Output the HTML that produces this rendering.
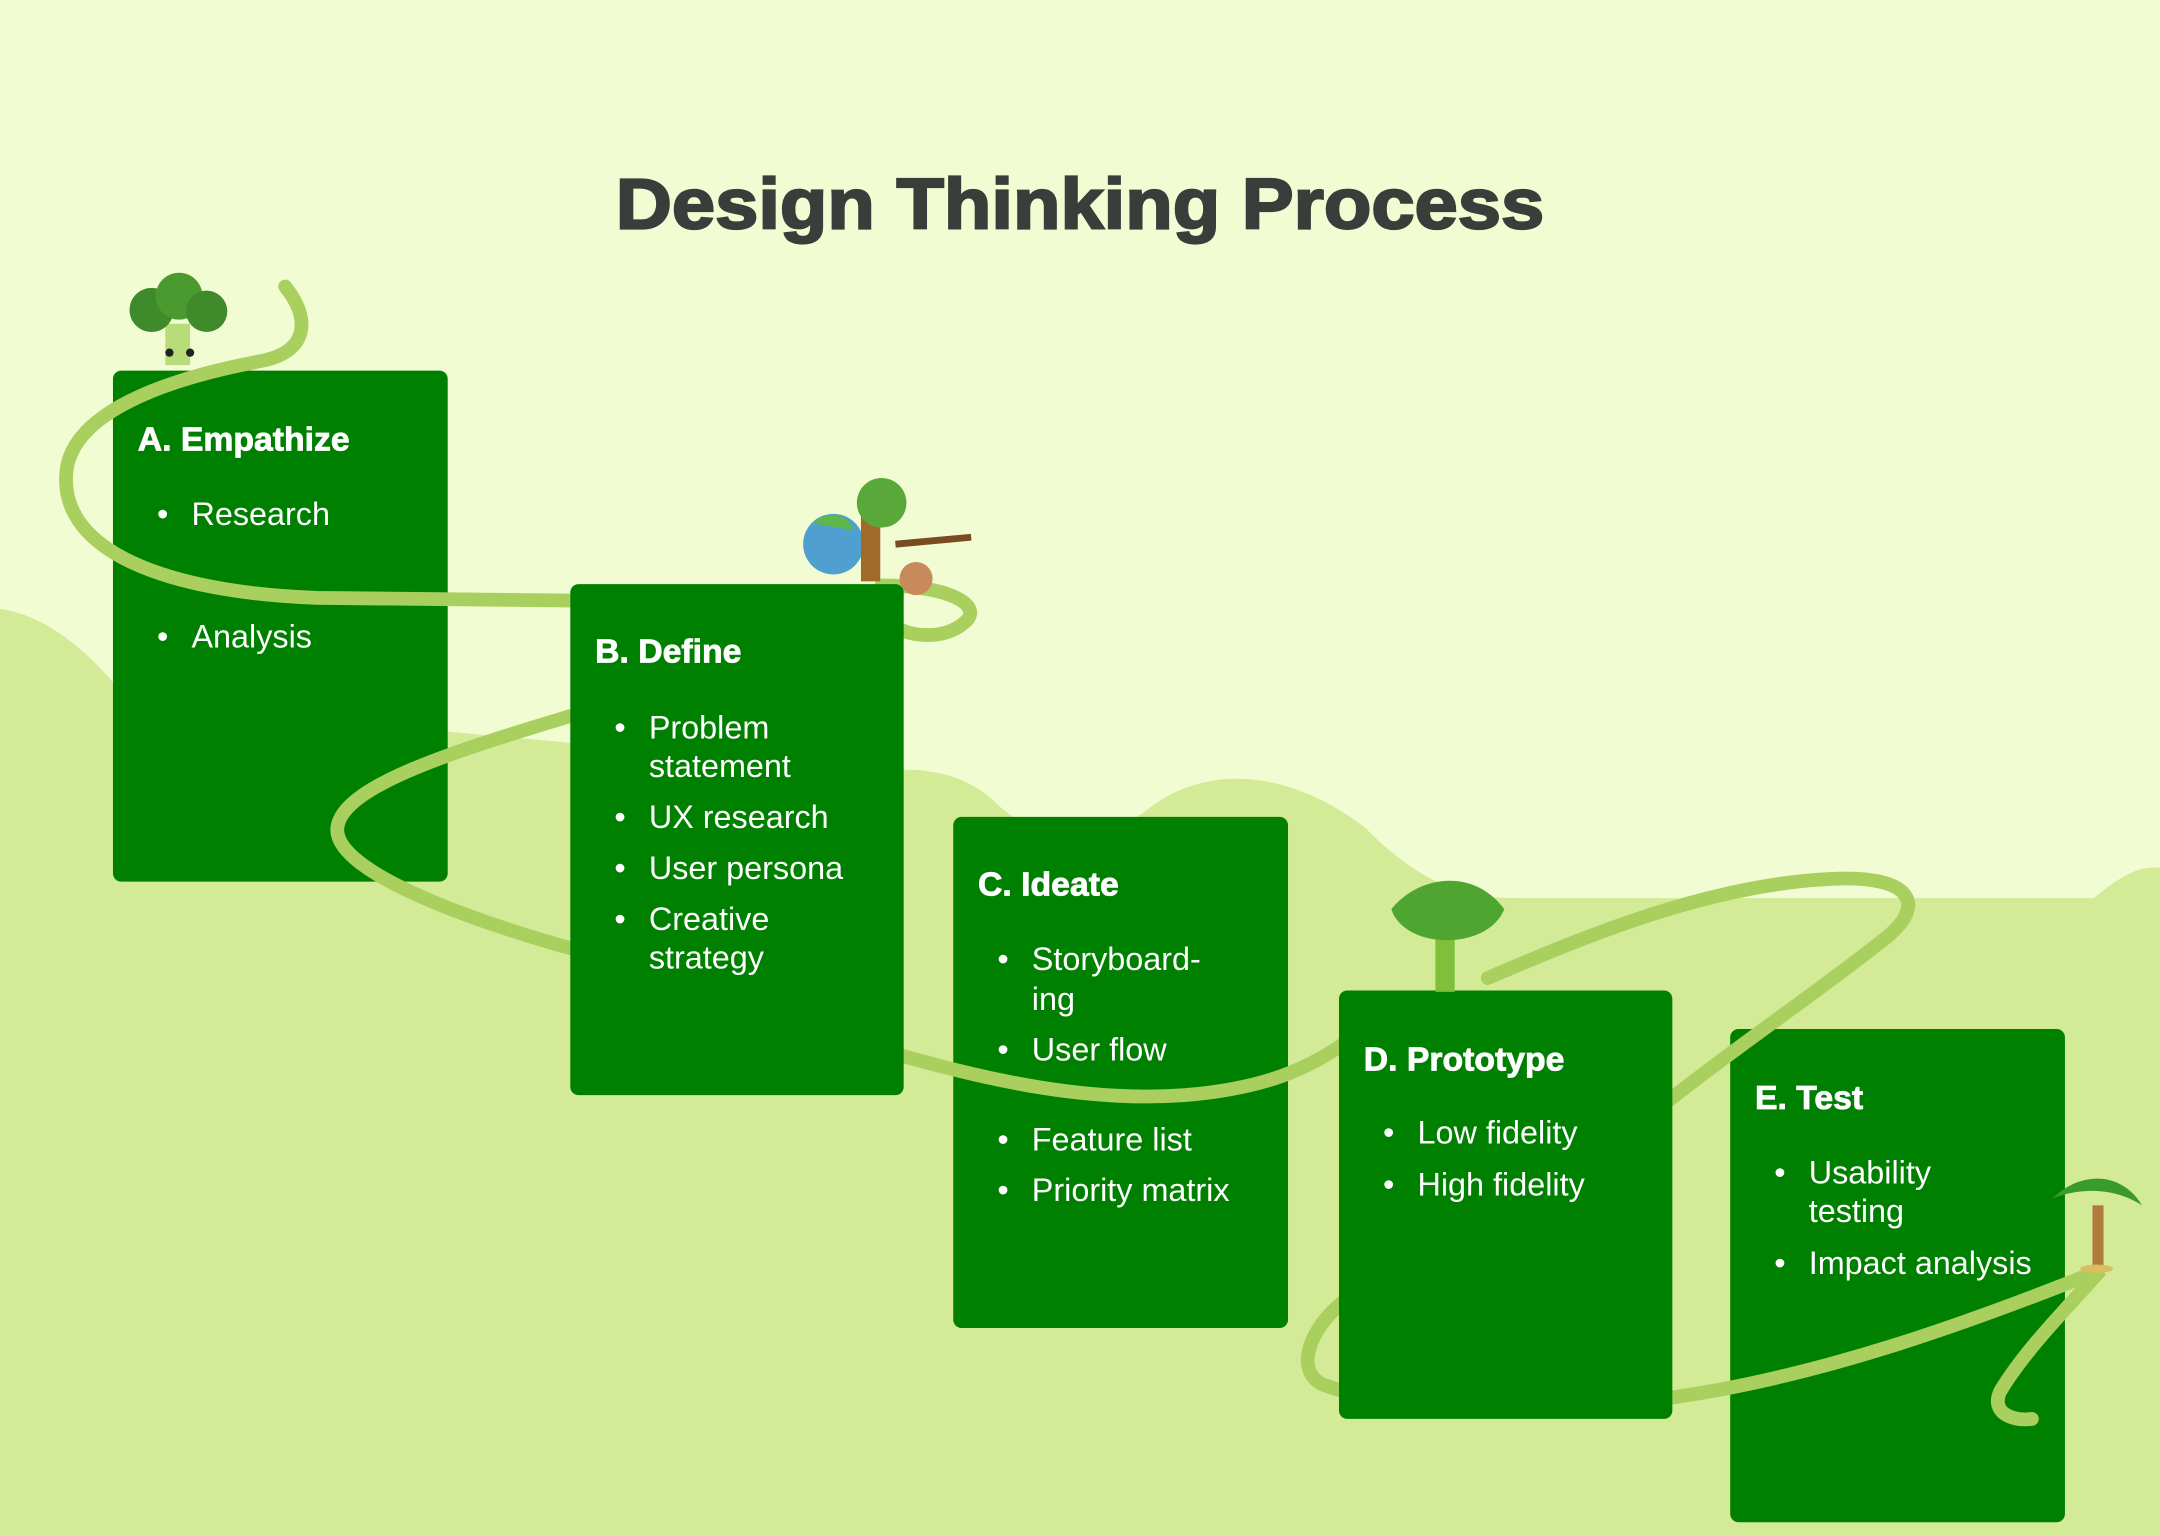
<!DOCTYPE html>
<html><head><meta charset="utf-8">
<style>
html,body{margin:0;padding:0;width:2160px;height:1536px;overflow:hidden;background:#f2fcd3}
svg{display:block}
text{font-family:"Liberation Sans",sans-serif}
.h{font-weight:bold;font-size:24.5px;fill:#fff;stroke:#fff;stroke-width:0.6}
.t{font-size:23.5px;fill:#fff}
</style></head><body>
<svg width="2160" height="1536" viewBox="0 0 1568 1115" preserveAspectRatio="none">
<rect width="1568" height="1115" fill="#f2fcd3"/>
<path d="M0,442 C40,448 70,480 95,510 L640,560 C670,556 700,562 720,580 C760,620 800,610 830,590 C870,556 930,555 990,600 C1030,640 1060,652 1100,652 L1520,652 C1540,635 1555,628 1568,630 L1568,1115 L0,1115 Z" fill="#d3ea96"/>
<text x="447" y="166" textLength="674" lengthAdjust="spacingAndGlyphs" style="font-weight:900;font-size:52px;fill:#3b3d3b;stroke:#3b3d3b;stroke-width:1.6">Design Thinking Process</text>
<g fill="#008000">
<rect x="82" y="269" width="243" height="371" rx="6"/>
<rect x="692" y="593" width="243" height="371" rx="6"/>
<rect x="1256" y="747" width="243" height="358" rx="6"/>
</g>
<g fill="none" stroke="#a9cf5f" stroke-width="10" stroke-linecap="round">
<path d="M207,208 C225,230 225,255 190,262 C120,275 50,300 48,345 C45,400 120,430 230,434 L420,436"/>
<path d="M640,425 C690,425 715,440 700,452 C685,465 660,462 650,455"/>
<path d="M420,518 C330,545 250,570 245,600 C240,630 330,665 420,690"/>
<path d="M650,765 C720,785 790,800 860,795 C920,790 950,775 975,758"/>
<path d="M1210,800 C1260,760 1320,720 1370,680 C1400,655 1385,635 1330,638 C1240,642 1150,680 1080,710"/>
<path d="M975,945 C950,965 940,995 960,1005 L975,1010"/>
<path d="M1210,1015 C1320,1000 1430,960 1525,922 C1500,950 1470,980 1452,1010 C1445,1025 1460,1032 1475,1030"/>
</g>
<g fill="#008000">
<rect x="414" y="424" width="242" height="371" rx="6"/>
<rect x="972" y="719" width="242" height="311" rx="6"/>
</g>
<g>
<rect x="120" y="235" width="18" height="30" fill="#b9dc7a"/>
<circle cx="110" cy="225" r="16" fill="#3f8a2a"/><circle cx="130" cy="215" r="17" fill="#4b9a30"/><circle cx="150" cy="226" r="15" fill="#3f8a2a"/>
<circle cx="123" cy="256" r="3" fill="#222"/><circle cx="138" cy="256" r="3" fill="#222"/>
<circle cx="605" cy="395" r="22" fill="#4fa0d0"/><path d="M590,380 C600,370 615,372 620,385 Z" fill="#5cb84a"/>
<rect x="625" y="370" width="14" height="52" fill="#a06a2a"/><circle cx="640" cy="365" r="18" fill="#5aa83a"/>
<path d="M650,395 L705,390" stroke="#7a4a20" stroke-width="5"/>
<circle cx="665" cy="420" r="12" fill="#c88a5a"/>
<rect x="1042" y="680" width="14" height="40" fill="#7fbf3a"/>
<path d="M1010,660 C1030,635 1070,630 1092,660 C1080,690 1020,690 1010,660 Z" fill="#4ea630"/>
<rect x="1519" y="875" width="8" height="45" fill="#b07a3a"/>
<path d="M1490,870 C1510,850 1540,850 1555,875 C1535,862 1510,862 1490,870 Z" fill="#3a9a2a"/>
<ellipse cx="1522" cy="921" rx="12" ry="3" fill="#d8c060"/>
</g>
<text class="h" x="100" y="327">A. Empathize</text>
<g class="t">
<text x="114" y="381">•</text><text x="139" y="381">Research</text>
<text x="114" y="470">•</text><text x="139" y="470">Analysis</text>
</g>
<text class="h" x="432" y="481">B. Define</text>
<g class="t">
<text x="446" y="536">•</text><text x="471" y="536">Problem</text><text x="471" y="564">statement</text>
<text x="446" y="601">•</text><text x="471" y="601">UX research</text>
<text x="446" y="638">•</text><text x="471" y="638">User persona</text>
<text x="446" y="675">•</text><text x="471" y="675">Creative</text><text x="471" y="703">strategy</text>
</g>
<text class="h" x="710" y="650">C. Ideate</text>
<g class="t">
<text x="724" y="704">•</text><text x="749" y="704">Storyboard-</text><text x="749" y="733">ing</text>
<text x="724" y="770">•</text><text x="749" y="770">User flow</text>
<text x="724" y="835">•</text><text x="749" y="835">Feature list</text>
<text x="724" y="872">•</text><text x="749" y="872">Priority matrix</text>
</g>
<text class="h" x="990" y="777">D. Prototype</text>
<g class="t">
<text x="1004" y="830">•</text><text x="1029" y="830">Low fidelity</text>
<text x="1004" y="868">•</text><text x="1029" y="868">High fidelity</text>
</g>
<text class="h" x="1274" y="805">E. Test</text>
<g class="t">
<text x="1288" y="859">•</text><text x="1313" y="859">Usability</text><text x="1313" y="887">testing</text>
<text x="1288" y="925">•</text><text x="1313" y="925">Impact analysis</text>
</g>
</svg>
</body></html>
